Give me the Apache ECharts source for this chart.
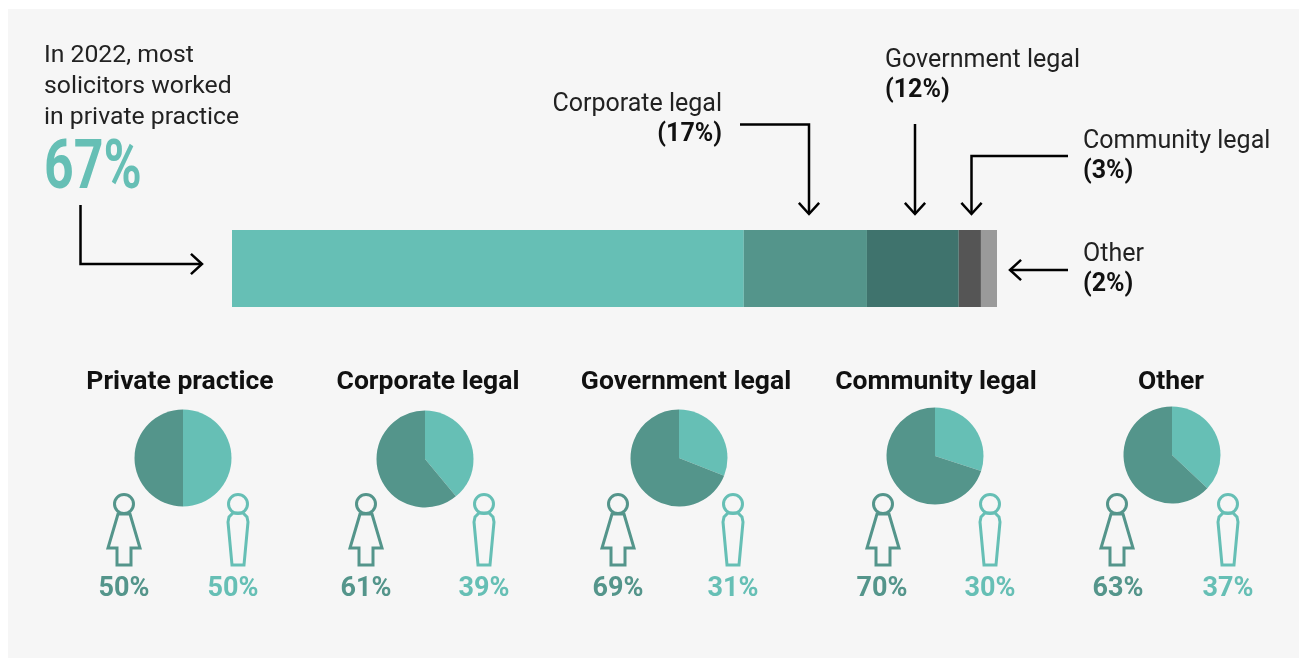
<!DOCTYPE html>
<html>
<head>
<meta charset="utf-8">
<title>Solicitors by sector</title>
<style>
  html, body { margin: 0; padding: 0; background: #fff; }
  #chart { width: 1299px; height: 658px; }
</style>
<script src="https://cdn.jsdelivr.net/npm/echarts@6/dist/echarts.min.js"></script>
</head>
<body>
<div id="chart"></div>
<script>
// sector share of all solicitors, as printed on the labels
const sectors = ['Private practice', 'Corporate legal', 'Government legal', 'Community legal', 'Other'];
const sectorLabels = [67, 17, 12, 3, 2];
// bar lengths (printed shares add up to 101)
const sectorBar = [66.9, 16.1, 12, 2.9, 2.1];
const sectorColors = ['#66bfb5', '#54958b', '#3f736d', '#555555', '#9a9a9a'];

// gender split per sector
const women = [50, 61, 69, 70, 63];
const men = [50, 39, 31, 30, 37];

const TEAL = '#66bfb5';
const DARK_TEAL = '#54958b';
const INK = '#111111';
const FONT = 'Roboto';

const pieCentres = [[183, 458], [425, 459], [679, 458], [935, 456], [1172, 455]];
const womanX = [124, 366, 618, 883, 1117];
const manX = [238, 484, 733, 990, 1228];
const womanLabelX = [124, 366, 618, 882, 1118];
const manLabelX = [233, 484, 733, 990, 1228];
const titleX = [180, 428, 686, 936, 1171];

// icon outlines, relative to the centre of the head
const womanBody = [[-6, 10], [6, 10], [16, 44], [7, 44], [7, 61], [-7, 61], [-7, 44], [-16, 44]];
const manBody = [[-5, 9], [5, 9], [9, 13], [10, 18], [6, 61], [-6, 61], [-10, 18], [-9, 13]];

function text(x, y, str, size, weight, color, align) {
  return {
    type: 'text', x: x, y: y + 2, silent: true,
    style: { text: str, fontFamily: FONT, fontSize: size, fontWeight: weight, fill: color, align: align || 'left', verticalAlign: 'middle' }
  };
}

function arrow(points) {
  const n = points.length;
  const [x1, y1] = points[n - 2];
  const [x2, y2] = points[n - 1];
  const a = Math.atan2(y2 - y1, x2 - x1);
  const head = [a + 2.4, a - 2.4].map(t => [x2 + 15 * Math.cos(t), y2 + 15 * Math.sin(t)]);
  const style = { stroke: '#000', lineWidth: 2.5, fill: null };
  return [
    { type: 'polyline', silent: true, shape: { points: points }, style: style },
    { type: 'polyline', silent: true, shape: { points: [head[0], [x2, y2], head[1]] }, style: style }
  ];
}

function person(body, x, color) {
  return [
    { type: 'circle', silent: true, shape: { cx: x, cy: 504, r: 9.5 }, style: { fill: null, stroke: color, lineWidth: 3 } },
    {
      type: 'polygon', silent: true,
      shape: { points: body.map(p => [x + p[0], 504 + p[1]]) },
      style: { fill: null, stroke: color, lineWidth: 3 }
    }
  ];
}

const graphics = [
  { type: 'rect', silent: true, z: -1, shape: { x: 8, y: 9, width: 1291, height: 649 }, style: { fill: '#f6f6f6' } },
  text(44, 54, 'In 2022, most', 24.75, 400, '#222'),
  text(44, 85, 'solicitors worked', 24.75, 400, '#222'),
  text(44, 116, 'in private practice', 24.75, 400, '#222'),
  Object.assign(text(44, 169, sectorLabels[0] + '%', 69, 700, TEAL), { scaleX: 0.75 }),
  text(722, 103, sectors[1], 25, 400, '#222', 'right'),
  text(722, 133, '(' + sectorLabels[1] + '%)', 25, 700, INK, 'right'),
  text(885, 59, sectors[2], 25, 400, '#222'),
  text(885, 89, '(' + sectorLabels[2] + '%)', 25, 700, INK),
  text(1083, 140, sectors[3], 25, 400, '#222'),
  text(1083, 170, '(' + sectorLabels[3] + '%)', 25, 700, INK),
  text(1083, 253, sectors[4], 25, 400, '#222'),
  text(1083, 283, '(' + sectorLabels[4] + '%)', 25, 700, INK),
  ...arrow([[80.5, 205], [80.5, 264], [202, 264]]),
  ...arrow([[740, 124.5], [809, 124.5], [809, 214]]),
  ...arrow([[915, 124], [915, 214]]),
  ...arrow([[1068, 156], [971.5, 156], [971.5, 214]]),
  ...arrow([[1068, 270], [1010, 270]])
];

sectors.forEach(function(name, i) {
  graphics.push(text(titleX[i], 380, name, 26.5, 700, INK, 'center'));
  graphics.push(text(womanLabelX[i], 587, women[i] + '%', 27, 700, DARK_TEAL, 'center'));
  graphics.push(text(manLabelX[i], 587, men[i] + '%', 27, 700, TEAL, 'center'));
  graphics.push(...person(womanBody, womanX[i], DARK_TEAL));
  graphics.push(...person(manBody, manX[i], TEAL));
});

const series = sectors.map(function(name, i) {
  return {
    name: name,
    type: 'bar',
    stack: 'share',
    barWidth: 77,
    silent: true,
    itemStyle: { color: sectorColors[i] },
    data: [sectorBar[i]]
  };
});

sectors.forEach(function(name, i) {
  series.push({
    name: name + ' by gender',
    type: 'pie',
    radius: [0, 48.5],
    center: pieCentres[i],
    startAngle: 90,
    clockwise: true,
    silent: true,
    label: { show: false },
    labelLine: { show: false },
    data: [
      { name: 'Men', value: men[i], itemStyle: { color: TEAL } },
      { name: 'Women', value: women[i], itemStyle: { color: DARK_TEAL } }
    ]
  });
});

const chart = echarts.init(document.getElementById('chart'));
chart.setOption({
  animation: false,
  backgroundColor: '#ffffff',
  grid: { left: 232, top: 230, width: 765, height: 77 },
  xAxis: { type: 'value', min: 0, max: 100, show: false },
  yAxis: { type: 'category', data: ['Share'], show: false },
  graphic: graphics,
  series: series
});
</script>
</body>
</html>
